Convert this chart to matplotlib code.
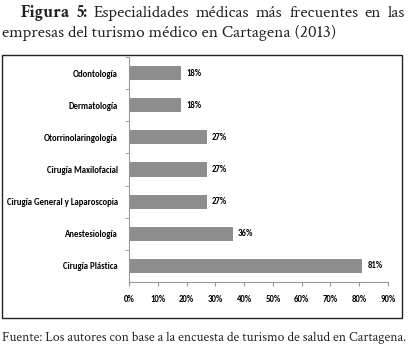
import matplotlib.pyplot as plt
from matplotlib.patches import Rectangle

categorias = ['Odontología', 'Dermatología', 'Otorrinolaringología', 'Cirugía Maxilofacial',
              'Cirugía General y Laparoscopia', 'Anestesiología', 'Cirugía Plástica']
valores = [18, 18, 27, 27, 27, 36, 81]
xticks = [0, 10, 20, 30, 40, 50, 60, 70, 80, 90]
titulo_1 = 'Figura 5: Especialidades médicas más frecuentes en las'
titulo_2 = 'empresas del turismo médico en Cartagena (2013)'
fuente = 'Fuente: Los autores con base a la encuesta de turismo de salud en Cartagena.'

W, H = 408, 346
fig = plt.figure(figsize=(W / 100, H / 100), dpi=100)
chart_font = ['Carlito', 'DejaVu Sans']
serif = ['Crimson Text', 'Liberation Serif', 'DejaVu Serif']
r = fig.canvas.get_renderer()


def fit_size(text, family, weight, target_px):
    t = fig.text(0, 0, text, fontfamily=family, fontsize=10, fontweight=weight)
    w = t.get_window_extent(r).width
    t.remove()
    return 10 * target_px / w


fs = fit_size(categorias[4], chart_font, 'bold', 112)
fs_t = fit_size(titulo_2, serif, 'normal', 333)
fs_f = fit_size(fuente, serif, 'normal', 401)

# caja del gráfico
fig.patches.append(Rectangle((2 / W, 1 - 318 / H), 400 / W, 263 / H, transform=fig.transFigure,
                             fill=False, edgecolor='#222222', linewidth=1))

ax = fig.add_axes([129 / W, 1 - 282 / H, (388 - 129) / W, (282 - 57) / H])
pos = list(range(len(categorias)))
ax.barh(pos, valores, height=0.44, color='#8e8e8e')
ax.set_ylim(len(categorias) - 0.5, -0.5)
ax.set_xlim(0, 90)
ax.set_xticks(xticks)
ax.set_xticklabels([f'{v}%' for v in xticks], fontfamily=chart_font, fontsize=fs, fontweight='bold')
ax.set_yticks(pos)
ax.set_yticklabels(categorias, fontfamily=chart_font, fontsize=fs, fontweight='bold')
ax.set_yticks([p + 0.5 for p in pos[:-1]] + [-0.5], minor=True)
ax.tick_params(axis='y', which='major', length=0, pad=8)
ax.tick_params(axis='y', which='minor', length=3, color='#999999')
ax.tick_params(axis='x', length=3, color='#999999', pad=6)
for s in ['top', 'right']:
    ax.spines[s].set_visible(False)
ax.spines['left'].set_color('#999999')
ax.spines['bottom'].set_color('#999999')
for p, v in zip(pos, valores):
    ax.text(v + 1.8, p, f'{v}%', va='center', ha='left', fontfamily=chart_font,
            fontsize=fs, fontweight='bold')

# título justificado
words = titulo_1.split()
texts = []
for i, w in enumerate(words):
    wt = 'bold' if i < 2 else 'normal'
    t = fig.text(0, 1 - 13 / H, w, fontfamily=serif, fontsize=fs_t, fontweight=wt, va='center', color='#222222')
    texts.append(t)
widths = [t.get_window_extent(r).width for t in texts]
x0, x1 = 21, 405
gap = (x1 - x0 - sum(widths)) / (len(words) - 1)
x = x0
for t, wd in zip(texts, widths):
    t.set_x(x / W)
    x += wd + gap
fig.text(2 / W, 1 - 33 / H, titulo_2, fontfamily=serif, fontsize=fs_t, va='center', color='#222222')
fig.text(2 / W, 1 - 338 / H, fuente, fontfamily=serif, fontsize=fs_f, va='center', color='#222222')

fig.savefig('out.png', dpi=100)
